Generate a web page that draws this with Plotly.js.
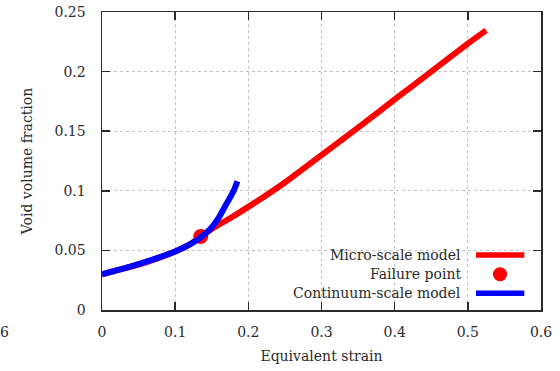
<!DOCTYPE html>
<html>
<head>
<meta charset="utf-8">
<script src="https://cdn.plot.ly/plotly-3.0.1.min.js"></script>
<style>
  html, body { margin: 0; padding: 0; background: #fff; }
  #chart { width: 560px; height: 371px; }
</style>
</head>
<body>
<div id="chart"></div>
<script>
// Micro-scale model: void volume fraction vs equivalent strain
const strainMicro = [0, 0.025, 0.05, 0.075, 0.1, 0.12, 0.135, 0.15, 0.175, 0.2, 0.25, 0.3, 0.35, 0.4, 0.45, 0.5, 0.525];
const voidMicro   = [0.030, 0.034, 0.038, 0.043, 0.049, 0.055, 0.0615, 0.068, 0.077, 0.0865, 0.107, 0.130, 0.153, 0.1766, 0.200, 0.2235, 0.2346];

// Continuum-scale model
const strainContinuum = [0, 0.025, 0.05, 0.075, 0.1, 0.12, 0.135, 0.148, 0.16, 0.17, 0.18, 0.185];
const voidContinuum   = [0.030, 0.034, 0.0385, 0.0435, 0.049, 0.055, 0.061, 0.068, 0.078, 0.089, 0.100, 0.108];

// Failure point
const failureStrain = [0.135];
const failureVoid   = [0.0617];

// Axis ticks
const xTicks = [0, 0.1, 0.2, 0.3, 0.4, 0.5, 0.6];
const yTicks = [0, 0.05, 0.1, 0.15, 0.2, 0.25];
const legendLabels = ['Micro-scale model', 'Failure point', 'Continuum-scale model'];

const FONT = 'DejaVu Serif';
const FSIZE = 14;
const INK = '#2a2a2a';

const traces = [
  {
    x: strainMicro, y: voidMicro, type: 'scatter', mode: 'lines',
    line: { color: '#ff0000', width: 6, shape: 'spline', smoothing: 0.6 },
    showlegend: false, hoverinfo: 'skip'
  },
  {
    x: failureStrain, y: failureVoid, type: 'scatter', mode: 'markers',
    marker: { color: '#ff0000', size: 15 }, showlegend: false, hoverinfo: 'skip'
  },
  {
    x: strainContinuum, y: voidContinuum, type: 'scatter', mode: 'lines',
    line: { color: '#0000ff', width: 6, shape: 'spline', smoothing: 0.8 },
    showlegend: false, hoverinfo: 'skip'
  }
];

const axisCommon = {
  showline: true, linecolor: INK, linewidth: 1.5, mirror: 'ticks',
  ticks: 'inside', ticklen: 8, tickwidth: 1.5, tickcolor: INK,
  showgrid: true, gridcolor: '#c4c4c4', griddash: 'dot', gridwidth: 1,
  zeroline: false, tickfont: { family: FONT, size: FSIZE, color: INK }
};

// legend key, drawn in paper coordinates on the right of each label
const legY = [0.1846, 0.1198, 0.056];
const legTextX = 0.8216;
const keyX0 = 0.852, keyX1 = 0.962, dotX = 0.9066;

const layout = {
  width: 560, height: 371,
  margin: { l: 102, r: 19, t: 12, b: 61 },
  paper_bgcolor: '#fff', plot_bgcolor: '#fff',
  font: { family: FONT, size: FSIZE, color: INK },
  xaxis: Object.assign({}, axisCommon, {
    range: [0, 0.6], tickvals: xTicks, ticktext: xTicks.map(String),
    ticklabelstandoff: 9,
    title: { text: 'Equivalent strain', font: { family: FONT, size: FSIZE, color: INK }, standoff: 12 }
  }),
  yaxis: Object.assign({}, axisCommon, {
    range: [0, 0.25], tickvals: yTicks, ticktext: yTicks.map(String),
    ticklabelstandoff: 12,
    title: { text: 'Void volume fraction', font: { family: FONT, size: FSIZE, color: INK }, standoff: 18 }
  }),
  shapes: [
    // legend backdrop hiding the grid
    { type: 'rect', xref: 'paper', yref: 'paper', x0: 0.378, x1: 1, y0: 0, y1: 0.218,
      fillcolor: '#fff', line: { width: 0 }, layer: 'between' },
    { type: 'line', xref: 'paper', yref: 'paper', x0: keyX0, x1: keyX1, y0: legY[0], y1: legY[0],
      line: { color: '#ff0000', width: 5.5 } },
    { type: 'circle', xref: 'paper', yref: 'paper', x0: dotX - 0.016, x1: dotX + 0.016,
      y0: legY[1] - 0.0235, y1: legY[1] + 0.0235, fillcolor: '#ff0000', line: { width: 0 } },
    { type: 'line', xref: 'paper', yref: 'paper', x0: keyX0, x1: keyX1, y0: legY[2], y1: legY[2],
      line: { color: '#0000ff', width: 5.5 } }
  ],
  annotations: legendLabels.map((t, i) => ({
    text: t, xref: 'paper', yref: 'paper', x: legTextX, y: legY[i],
    xanchor: 'right', yanchor: 'middle', showarrow: false,
    font: { family: FONT, size: FSIZE, color: INK }
  })).concat([
    { text: '6', xref: 'paper', yref: 'paper', x: -0.2232, y: -0.0725,
      xanchor: 'center', yanchor: 'middle', showarrow: false,
      font: { family: FONT, size: FSIZE, color: INK } }
  ])
};

Plotly.newPlot('chart', traces, layout, { staticPlot: true, displayModeBar: false });
</script>
</body>
</html>
